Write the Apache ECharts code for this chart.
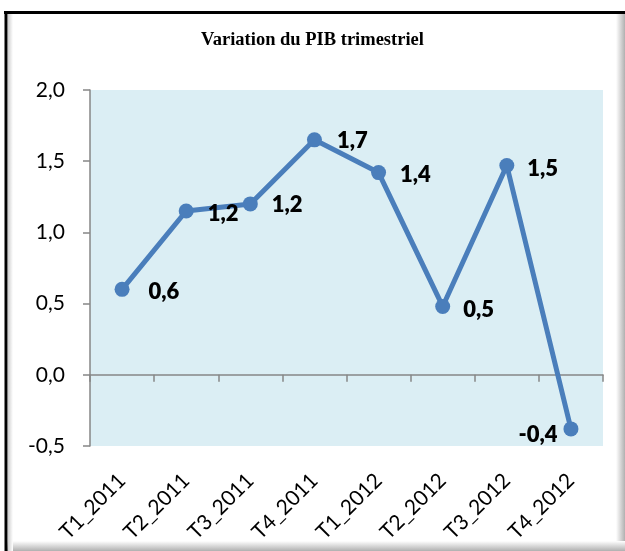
<!DOCTYPE html>
<html>
<head>
<meta charset="utf-8">
<script src="https://cdn.jsdelivr.net/npm/echarts@6/dist/echarts.min.js"></script>
<style>
html,body{margin:0;padding:0;background:#fff;}
#c{width:625px;height:551px;}
</style>
</head>
<body>
<div id="c"></div>
<script>
// Data
const categories = ['T1_2011','T2_2011','T3_2011','T4_2011','T1_2012','T2_2012','T3_2012','T4_2012'];
const values = [0.6, 1.15, 1.2, 1.65, 1.42, 0.48, 1.47, -0.38];
const valueLabels = ['0,6','1,2','1,2','1,7','1,4','0,5','1,5','-0,4'];
const yTicks = [-0.5, 0, 0.5, 1.0, 1.5, 2.0];
const title = 'Variation du PIB trimestriel';

// label placement (layout only)
const labelPlacement = [
  {position:'right', distance:19, offset:[0,3]},
  {position:'right', distance:14, offset:[0,3]},
  {position:'right', distance:14, offset:[0,1]},
  {position:'right', distance:15, offset:[0,1]},
  {position:'right', distance:14, offset:[0,2]},
  {position:'right', distance:13, offset:[0,3]},
  {position:'right', distance:13, offset:[0,3]},
  {position:'left', distance:6, offset:[0,6]}
];

const chart = echarts.init(document.getElementById('c'));
const axisGray = '#868686';
const font = 'Lato, "Open Sans", sans-serif';

chart.setOption({
  animation: false,
  title: {
    text: title, left: 'center', top: 26,
    textStyle: {fontFamily: '"Liberation Serif", "Times New Roman", serif', fontWeight: 'bold', fontSize: 18.5, color: '#000'}
  },
  grid: {left: 90, right: 22, top: 90, bottom: 105, show: true, backgroundColor: '#DBEEF4', borderWidth: 0},
  xAxis: [
    {
      type: 'category', data: categories, position: 'bottom',
      axisLine: {onZero: true, lineStyle: {color: axisGray, width: 1.5}},
      axisTick: {show: true, length: 7, lineStyle: {color: axisGray, width: 1.5}},
      axisLabel: {show: false}
    },
    {
      type: 'category', data: categories, position: 'bottom',
      axisLine: {show: false, onZero: false}, axisTick: {show: false},
      axisLabel: {rotate: 45, margin: 31, fontFamily: font, fontSize: 21, color: '#000'}
    }
  ],
  yAxis: {
    type: 'value', min: yTicks[0], max: yTicks[yTicks.length-1], interval: 0.5,
    axisLine: {show: true, lineStyle: {color: axisGray, width: 1.5}},
    axisTick: {show: true, length: 7, lineStyle: {color: axisGray, width: 1.5}},
    splitLine: {show: false},
    axisLabel: {margin: 25, fontFamily: font, fontSize: 21, color: '#000',
      formatter: v => v.toFixed(1).replace('.', ',')}
  },
  series: [{
    type: 'line', xAxisIndex: 0,
    data: values.map((v, i) => ({
      value: v,
      label: Object.assign({show: true, formatter: valueLabels[i]}, labelPlacement[i])
    })),
    symbol: 'circle', symbolSize: 15,
    lineStyle: {color: '#4A7EBB', width: 5},
    itemStyle: {color: '#4A7EBB'},
    label: {fontFamily: font, fontWeight: 800, fontSize: 22, color: '#000'}
  }],
  graphic: [
    {type: 'rect', shape: {x: 616, y: 12, width: 9, height: 539}, style: {fill: new echarts.graphic.LinearGradient(0,0,1,0,[{offset:0,color:'#ffffff'},{offset:1,color:'#b0b0b0'}])}, silent: true},
    {type: 'rect', shape: {x: 5, y: 541, width: 620, height: 10}, style: {fill: new echarts.graphic.LinearGradient(0,0,0,1,[{offset:0,color:'#ffffff'},{offset:1,color:'#b0b0b0'}])}, silent: true},
    {type: 'rect', shape: {x: 8, y: 14, width: 5, height: 537}, style: {fill: new echarts.graphic.LinearGradient(0,0,1,0,[{offset:0,color:'#cfcfcf'},{offset:1,color:'#ffffff'}])}, silent: true},
    {type: 'line', shape: {x1: 4, y1: 12.5, x2: 625, y2: 12.5}, style: {stroke: '#000', lineWidth: 3}, silent: true},
    {type: 'line', shape: {x1: 6, y1: 11, x2: 6, y2: 551}, style: {stroke: '#000', lineWidth: 3}, silent: true}
  ]
});
</script>
</body>
</html>
